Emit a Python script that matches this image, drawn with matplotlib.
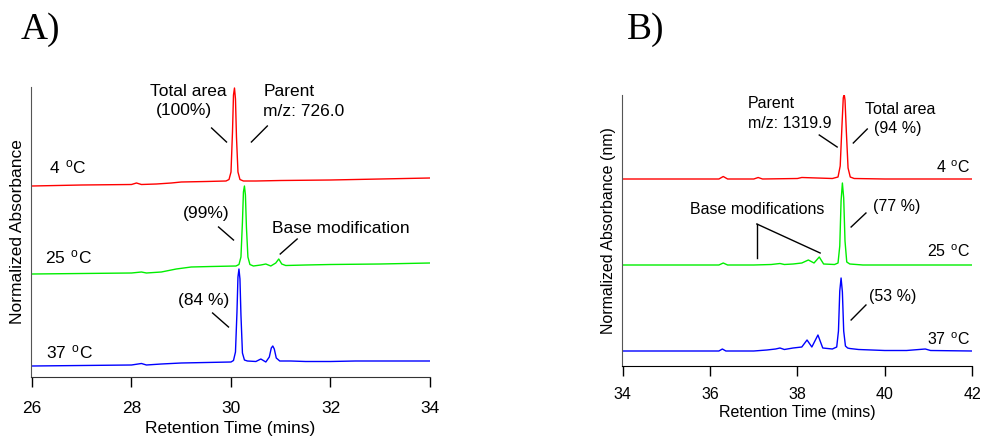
import matplotlib
matplotlib.use("Agg")
import matplotlib.pyplot as plt

plt.rcParams['font.family'] = ['Liberation Sans', 'DejaVu Sans']
plt.rcParams['mathtext.fontset'] = 'custom'
plt.rcParams['mathtext.rm'] = 'Liberation Sans'
plt.rcParams['mathtext.it'] = 'Liberation Sans'

# ---- Panel A traces (retention time in mins, absorbance in arbitrary units, offset per trace)
a_t_4 = [26.0, 27.0, 28.0, 28.1, 28.2, 28.5, 28.8, 29.0, 29.5, 29.9, 29.96, 30.0, 30.03, 30.05, 30.07,
         30.09, 30.11, 30.14, 30.18, 30.25, 30.5, 31.0, 32.0, 33.0, 34.0]
a_y_4 = [191, 192, 192.5, 194, 192.5, 193, 194, 195, 195.5, 196, 197.5, 205, 245, 282, 289,
         278, 240, 205, 197.5, 196, 196, 196.5, 197, 198, 199]

a_t_25 = [26.0, 27.0, 28.0, 28.2, 28.3, 28.6, 28.9, 29.2, 29.6, 30.1, 30.16, 30.2, 30.23, 30.25, 30.27,
          30.29, 30.31, 30.34, 30.38, 30.45, 30.6, 30.7, 30.8, 30.9, 30.96, 31.02, 31.1, 31.5, 32.0, 33.0, 34.0]
a_y_25 = [103, 103.5, 104, 105, 104, 105, 108, 110, 110.5, 111, 112.5, 120, 155, 185, 191,
          182, 150, 120, 112.5, 111, 112, 113, 111, 114, 118, 113, 111.5, 112, 112.5, 113, 114]

a_t_37 = [26.0, 27.0, 28.0, 28.2, 28.3, 28.6, 29.0, 29.5, 30.0, 30.05, 30.09, 30.12, 30.14, 30.16,
          30.18, 30.2, 30.23, 30.27, 30.33, 30.5, 30.6, 30.7, 30.77, 30.81, 30.84, 30.87, 30.91, 30.98,
          31.2, 31.5, 32.0, 32.5, 33.0, 34.0]
a_y_37 = [11, 11.5, 12, 13.5, 12, 13, 14, 14.5, 15, 16.5, 25, 65, 100, 108,
          98, 62, 24, 17, 16, 15.5, 18, 15, 20, 29, 31, 28, 19, 16,
          16, 15.5, 15.5, 16, 16, 16]

# ---- Panel B traces
b_t_4 = [34.0, 35.0, 36.2, 36.3, 36.4, 37.0, 37.1, 37.2, 38.0, 38.1, 38.8, 38.93, 38.98, 39.02, 39.05,
         39.07, 39.09, 39.12, 39.16, 39.21, 39.3, 40.0, 41.0, 42.0]
b_y_4 = [187, 187, 187, 189.5, 187, 187, 188.5, 187, 187.5, 188.5, 187.5, 189, 200, 240, 268,
         272, 266, 235, 198, 189, 187.5, 187, 187, 187]

b_t_25 = [34.0, 36.2, 36.3, 36.4, 37.0, 37.4, 37.6, 37.7, 37.9, 38.1, 38.25, 38.38, 38.5, 38.6,
          38.85, 38.93, 38.97, 39.0, 39.03, 39.06, 39.09, 39.13, 39.2, 39.5, 40.0, 41.0, 42.0]
b_y_25 = [101, 101, 103, 101, 101, 101.5, 102.5, 101.5, 102, 103, 106, 103, 109, 102,
          101.5, 103, 120, 165, 183, 168, 125, 104, 102, 101, 101, 101, 101]

b_t_37 = [34.0, 36.2, 36.28, 36.36, 37.0, 37.3, 37.5, 37.6, 37.7, 37.9, 38.1, 38.22, 38.33, 38.47,
          38.58, 38.8, 38.9, 38.94, 38.97, 39.0, 39.03, 39.06, 39.1, 39.15, 39.2, 39.4, 40.0, 40.5,
          40.93, 41.05, 42.0]
b_y_37 = [15, 15, 17, 15, 15, 16, 17, 18, 16.5, 18, 19, 26, 19, 31,
          18, 17, 19, 35, 75, 88, 74, 35, 20, 18, 17.5, 16.5, 15.5, 15.5,
          17, 15.5, 15]

temps = ['4', '25', '37']
a_pct = ['(100%)', '(99%)', '(84 %)']
b_pct = ['(94 %)', '(77 %)', '(53 %)']

W, H = 982, 436
fig = plt.figure(figsize=(W / 100, H / 100), dpi=100)


def px_axes(left, right, top, bottom):
    return fig.add_axes([left / W, (H - bottom) / H, (right - left) / W, (bottom - top) / H])


def style(ax, fs, pad):
    ax.spines['top'].set_visible(False)
    ax.spines['right'].set_visible(False)
    ax.spines['left'].set_color('#555555')
    ax.spines['bottom'].set_color('#333333')
    ax.set_yticks([])
    ax.tick_params(axis='x', direction='out', length=7.5, width=1, pad=pad, labelsize=fs)


def deg(t):
    return t + r'$\;\,^{\mathrm{o}}$C'


# Panel A
axA = px_axes(31, 430, 87, 377)
axA.plot(a_t_4, a_y_4, color='#ff0000', lw=1)
axA.plot(a_t_25, a_y_25, color='#00ee00', lw=1)
axA.plot(a_t_37, a_y_37, color='#0000ff', lw=1)
axA.set_xlim(25.98, 34)
axA.set_ylim(0, 290)
axA.set_xticks([26, 28, 30, 32, 34])
style(axA, 12.5, 9.5)
axA.set_xlabel('Retention Time (mins)', fontsize=12.5, labelpad=4)
axA.set_ylabel('Normalized Absorbance', fontsize=12.5, labelpad=4)

fsA = 12.5
axA.text(26.34, 210, deg(temps[0]), fontsize=fsA, va='center')
axA.text(26.26, 120, deg(temps[1]), fontsize=fsA, va='center')
axA.text(26.28, 25, deg(temps[2]), fontsize=fsA, va='center')
axA.text(29.15, 286, 'Total area', fontsize=fsA, ha='center', va='center')
axA.text(29.05, 266, a_pct[0], fontsize=fsA, ha='center', va='center')
axA.plot([29.61, 29.91], [249, 235], color='k', lw=1)
axA.text(30.65, 286, 'Parent', fontsize=fsA, va='center')
axA.text(30.65, 266, 'm/z: 726.0', fontsize=fsA, va='center')
axA.plot([30.73, 30.41], [251, 235], color='k', lw=1)
axA.text(29.51, 164, a_pct[1], fontsize=fsA, ha='center', va='center')
axA.plot([29.75, 30.05], [150, 137], color='k', lw=1)
axA.text(30.83, 149, 'Base modification', fontsize=fsA, va='center')
axA.plot([31.33, 30.99], [138, 123], color='k', lw=1)
axA.text(29.45, 77, a_pct[2], fontsize=fsA, ha='center', va='center')
axA.plot([29.63, 29.95], [64, 50], color='k', lw=1)

# Panel B
axB = px_axes(622, 972, 95, 366)
axB.plot(b_t_4, b_y_4, color='#ff0000', lw=1)
axB.plot(b_t_25, b_y_25, color='#00ee00', lw=1)
axB.plot(b_t_37, b_y_37, color='#0000ff', lw=1)
axB.set_xlim(33.98, 42)
axB.set_ylim(0, 271)
axB.set_xticks([34, 36, 38, 40, 42])
style(axB, 11.5, 7.5)
axB.spines['bottom'].set_color('black')
axB.set_xlabel('Retention Time (mins)', fontsize=11.5, labelpad=2.5)
axB.set_ylabel('Normalized Absorbance (nm)', fontsize=11.5, labelpad=4)

fsB = 11.5
axB.text(36.87, 263, 'Parent', fontsize=fsB, va='center')
axB.text(36.87, 243, 'm/z: 1319.9', fontsize=fsB, va='center')
axB.plot([38.50, 38.91], [231, 219], color='k', lw=1)
axB.text(39.55, 256, 'Total area', fontsize=fsB, va='center')
axB.text(39.76, 237, b_pct[0], fontsize=fsB, va='center')
axB.plot([39.60, 39.28], [237, 223], color='k', lw=1)
axB.text(41.96, 198, deg(temps[0]), fontsize=fsB, ha='right', va='center')
axB.text(35.54, 157, 'Base modifications', fontsize=fsB, va='center')
axB.plot([37.07, 37.07], [108, 142], color='k', lw=1)
axB.plot([37.07, 38.52], [142, 113], color='k', lw=1)
axB.text(39.73, 159, b_pct[1], fontsize=fsB, va='center')
axB.plot([39.57, 39.23], [153, 139], color='k', lw=1)
axB.text(41.96, 114, deg(temps[1]), fontsize=fsB, ha='right', va='center')
axB.text(39.64, 69, b_pct[2], fontsize=fsB, va='center')
axB.plot([39.57, 39.23], [61, 46], color='k', lw=1)
axB.text(41.96, 26, deg(temps[2]), fontsize=fsB, ha='right', va='center')

fig.text(40 / W, 1 - 30 / H, 'A)', fontsize=27, family=['Liberation Serif', 'DejaVu Serif'],
         ha='center', va='center')
fig.text(646 / W, 1 - 30 / H, 'B)', fontsize=27, family=['Liberation Serif', 'DejaVu Serif'],
         ha='center', va='center')

fig.savefig('out.png', dpi=100, facecolor='white')
